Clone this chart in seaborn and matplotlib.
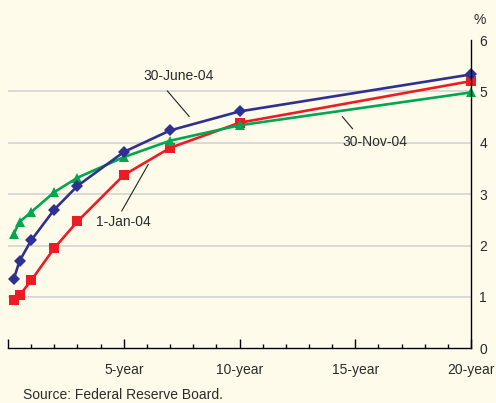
import matplotlib
matplotlib.use("Agg")
import matplotlib.pyplot as plt
import numpy as np
import pandas as pd
import seaborn as sns
from matplotlib.ticker import MultipleLocator

# Treasury yield curves (percent) by maturity in years
maturities = [0.25, 0.5, 1, 2, 3, 5, 7, 10, 20]
jan04 = [0.94, 1.03, 1.32, 1.95, 2.47, 3.37, 3.90, 4.39, 5.20]
jun04 = [1.35, 1.70, 2.10, 2.70, 3.16, 3.82, 4.24, 4.61, 5.33]
nov04 = [2.23, 2.46, 2.65, 3.04, 3.32, 3.72, 4.04, 4.34, 4.98]
series_names = ["1-Jan-04", "30-Nov-04", "30-June-04"]

x_ticks = [0, 5, 10, 15, 20]
x_tick_labels = ["", "5-year", "10-year", "15-year", "20-year"]
y_ticks = [0, 1, 2, 3, 4, 5, 6]
unit_label = "%"
source_note = "Source: Federal Reserve Board."

df = pd.DataFrame({
    "maturity": maturities * 3,
    "yield": jan04 + nov04 + jun04,
    "date": np.repeat(series_names, len(maturities)),
})

BG = "#fffbea"
TXT = "#2b2b2b"
palette = {"1-Jan-04": "#ed1c24", "30-Nov-04": "#00a651", "30-June-04": "#2e3192"}
markers = {"1-Jan-04": "s", "30-Nov-04": "^", "30-June-04": "D"}
msizes = {"1-Jan-04": 6.5, "30-Nov-04": 7.0, "30-June-04": 6.0}

sns.set_style("white")
plt.rcParams["font.family"] = ["Liberation Sans", "DejaVu Sans"]

W, H = 496, 403
fig = plt.figure(figsize=(W / 100, H / 100), dpi=100, facecolor=BG)
left, right, bottom, top = 8, 471, 348.3, 40
ax = fig.add_axes([left / W, 1 - bottom / H, (right - left) / W, (bottom - top) / H])
ax.set_facecolor(BG)

# light horizontal guides between the axis limits
ax.hlines(y_ticks[1:-1], x_ticks[0], x_ticks[-1], color="#d9d9d9", lw=1.4, zorder=0.5)

sns.lineplot(
    data=df, x="maturity", y="yield", hue="date", style="date",
    hue_order=series_names, style_order=series_names,
    palette=palette, markers=markers, dashes=False,
    linewidth=1.9, markeredgewidth=0, legend=False, ax=ax, clip_on=False,
)
for line, name in zip(ax.lines, series_names):
    line.set_markersize(msizes[name])
    line.set_zorder(3)

ax.set_xlim(x_ticks[0], x_ticks[-1])
ax.set_ylim(y_ticks[0], y_ticks[-1])
ax.set_xlabel("")
ax.set_ylabel("")

# axes frame: bottom and right only
for side in ["left", "top"]:
    ax.spines[side].set_visible(False)
for side in ["bottom", "right"]:
    ax.spines[side].set_visible(True)
    ax.spines[side].set_color("black")
    ax.spines[side].set_linewidth(1.0)
    ax.spines[side].set_zorder(4)

ax.yaxis.tick_right()
ax.set_yticks(y_ticks)
ax.set_yticklabels([str(v) for v in y_ticks])
ax.tick_params(axis="y", length=0, pad=6, labelsize=10, labelcolor=TXT)

ax.set_xticks(x_ticks)
ax.set_xticklabels(x_tick_labels)
ax.xaxis.set_minor_locator(MultipleLocator(1))
ax.tick_params(axis="x", which="major", direction="in", length=6.5, width=1.0,
               pad=10.5, labelsize=10, labelcolor=TXT, color="black", bottom=True)
ax.tick_params(axis="x", which="minor", direction="in", length=3, width=1.0,
               color="black", bottom=True)

ax.text(1.019, 1.065, unit_label, transform=ax.transAxes, ha="center", va="center",
        fontsize=10, color=TXT)

# series labels with leader lines
labels = [
    ("30-June-04", (7.38, 5.30), (6.88, 5.01), (7.83, 4.51)),
    ("1-Jan-04", (4.99, 2.45), (6.06, 3.58), (4.91, 2.67)),
    ("30-Nov-04", (15.85, 4.01), (14.44, 4.51), (14.89, 4.27)),
]
for text, pos, p0, p1 in labels:
    ax.text(pos[0], pos[1], text, ha="center", va="center", fontsize=10, color=TXT, zorder=5)
    ax.annotate("", xy=p1, xytext=p0,
                arrowprops=dict(arrowstyle="-", lw=0.8, color="#222222",
                                shrinkA=0, shrinkB=0), zorder=5)

fig.text(23 / W, 1 - 395 / H, source_note, ha="left", va="center", fontsize=10, color=TXT)

fig.savefig("out.png", dpi=100, facecolor=BG)
